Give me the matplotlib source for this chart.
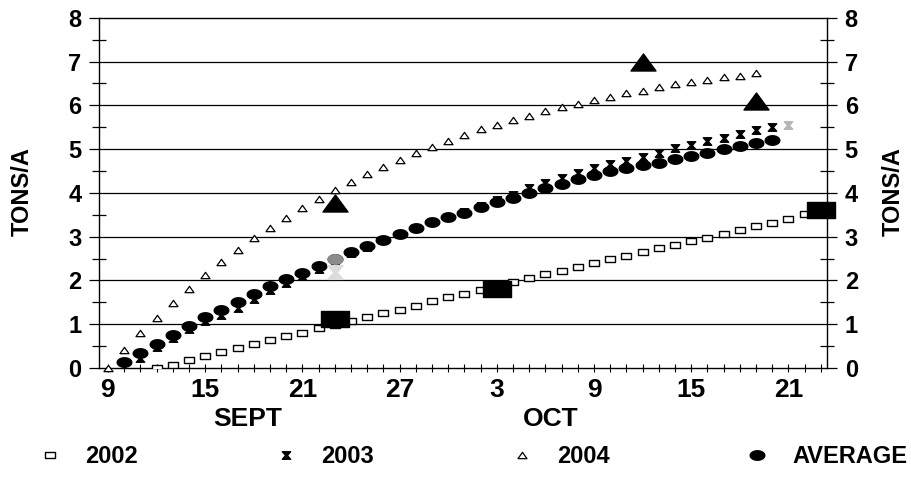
import numpy as np
import matplotlib
matplotlib.use('Agg')
import matplotlib.pyplot as plt
from matplotlib.path import Path
from matplotlib.ticker import FixedLocator, MultipleLocator

plt.rcParams['font.family'] = ['Liberation Sans', 'DejaVu Sans']
plt.rcParams['font.weight'] = 'bold'

# days are counted from 9 Sept (day 0)
tick_days = [0, 6, 12, 18, 24, 30, 36, 42]
tick_labels = ['9', '15', '21', '27', '3', '9', '15', '21']

days_2002 = np.arange(3, 44)
tons_2002 = [0.00, 0.08, 0.19, 0.28, 0.37, 0.46, 0.55, 0.64, 0.72, 0.81,
             0.91, 0.99, 1.07, 1.16, 1.25, 1.33, 1.42, 1.53, 1.62, 1.70,
             1.78, 1.87, 1.96, 2.05, 2.14, 2.22, 2.31, 2.39, 2.48, 2.56,
             2.64, 2.73, 2.82, 2.91, 2.98, 3.06, 3.15, 3.24, 3.32, 3.40,
             3.51]

days_2003 = np.arange(1, 43)
tons_2003 = [0.02, 0.24, 0.47, 0.68, 0.89, 1.07, 1.22, 1.38, 1.58, 1.78,
             1.95, 2.10, 2.27, 2.45, 2.62, 2.77, 2.92, 3.06, 3.20, 3.33,
             3.45, 3.57, 3.70, 3.84, 3.96, 4.10, 4.23, 4.35, 4.46, 4.57,
             4.65, 4.73, 4.81, 4.92, 5.02, 5.09, 5.19, 5.26, 5.34, 5.43,
             5.51, 5.55]

days_2004 = np.arange(0, 41)
tons_2004 = [0.00, 0.41, 0.80, 1.15, 1.49, 1.81, 2.13, 2.42, 2.70, 2.96,
             3.19, 3.42, 3.65, 3.86, 4.06, 4.25, 4.43, 4.60, 4.76, 4.90,
             5.05, 5.18, 5.32, 5.45, 5.56, 5.66, 5.76, 5.87, 5.97, 6.04,
             6.12, 6.19, 6.27, 6.33, 6.41, 6.48, 6.54, 6.58, 6.64, 6.67,
             6.73]

days_avg = np.arange(1, 42)
tons_avg = [0.14, 0.35, 0.55, 0.75, 0.97, 1.16, 1.33, 1.50, 1.69, 1.87,
            2.03, 2.18, 2.34, 2.50, 2.65, 2.79, 2.93, 3.07, 3.19, 3.33,
            3.44, 3.55, 3.67, 3.79, 3.89, 3.99, 4.11, 4.21, 4.31, 4.40,
            4.50, 4.57, 4.63, 4.69, 4.77, 4.85, 4.92, 5.00, 5.07, 5.13,
            5.21]

# harvest samples (big markers)
big_days_2002 = [14, 24, 44]
big_tons_2002 = [1.11, 1.80, 3.60]
big_days_2003 = [14]
big_tons_2003 = [2.20]
big_days_2004 = [14, 33, 40]
big_tons_2004 = [3.76, 7.00, 6.09]


def box(ratio):
    return Path([(-1, -ratio), (1, -ratio), (1, ratio), (-1, ratio), (-1, -ratio)],
                closed=True)


def triangle(ratio):
    return Path([(0, ratio), (-1, -ratio), (1, -ratio), (0, ratio)], closed=True)


def oval(ratio):
    t = np.linspace(0, 2 * np.pi, 40)
    return Path(np.column_stack([np.cos(t), ratio * np.sin(t)]), closed=True)


hourglass = Path([(-1, 0.9), (1, 0.9), (0.2, 0), (1, -0.9), (-1, -0.9),
                  (-0.2, 0), (-1, 0.9)], closed=True)

fig = plt.figure(figsize=(9.11, 4.79), dpi=100)
ax = fig.add_axes([0.1092, 0.2317, 0.7982, 0.7313])
ax.set_xlim(-0.52, 44.36)
ax.set_ylim(0, 8)

for v in range(1, 8):
    ax.axhline(v, color='black', lw=0.9, zorder=1)

ax.plot(days_2002, tons_2002, ls='none', marker=box(0.6), ms=7.2,
        mfc='white', mec='black', mew=1.0, label='2002', zorder=3)
ax.plot(days_2003[:-1], tons_2003[:-1], ls='none', marker=hourglass, ms=6,
        color='black', label='2003', zorder=3)
ax.plot(days_2003[-1:], tons_2003[-1:], ls='none', marker=hourglass, ms=6,
        color='#b5b5b5', zorder=3)
ax.plot(days_2004, tons_2004, ls='none', marker=triangle(0.7), ms=6.5,
        mfc='white', mec='black', mew=0.9, label='2004', zorder=3, clip_on=False)
ax.plot(days_avg, tons_avg, ls='none', marker=oval(0.65), ms=10.5,
        color='black', label='AVERAGE', zorder=4)

# faded points on 23 Sept
ax.plot(big_days_2003, big_tons_2003, ls='none', marker=hourglass, ms=11,
        color='#dcdcdc', zorder=4.2)
ax.plot(days_avg[13], tons_avg[13], ls='none', marker=oval(0.65), ms=10.5,
        color='#8c8c8c', zorder=4.5)

ax.plot(big_days_2002, big_tons_2002, ls='none', marker=box(0.57), ms=20,
        color='black', zorder=5, clip_on=False)
ax.plot(big_days_2004, big_tons_2004, ls='none', marker=triangle(0.68), ms=18,
        color='black', zorder=5, clip_on=False)

for s in ax.spines.values():
    s.set_linewidth(1.0)

ax.xaxis.set_major_locator(FixedLocator(tick_days))
ax.set_xticklabels(tick_labels)
ax.xaxis.set_minor_locator(MultipleLocator(1))
ax.tick_params(axis='x', which='both', direction='inout', length=6, width=0.8,
               labelsize=19, pad=4)

ax.yaxis.set_major_locator(MultipleLocator(1))
ax.yaxis.set_minor_locator(MultipleLocator(0.5))
ax.tick_params(axis='y', which='major', direction='out', length=7, width=0.9,
               left=True, right=True, labelleft=True, labelright=True,
               labelsize=17, pad=6)
ax.tick_params(axis='y', which='minor', direction='inout', length=10, width=0.9,
               left=True, right=True)

fig.text(0.272, 0.125, 'SEPT', ha='center', va='center', fontsize=19)
fig.text(0.604, 0.125, 'OCT', ha='center', va='center', fontsize=19)
fig.text(0.024, 0.60, 'TONS/A', rotation=90, ha='center', va='center', fontsize=17)
fig.text(0.980, 0.60, 'TONS/A', rotation=90, ha='center', va='center', fontsize=17)

ax.legend(ncol=4, loc='center left', bbox_to_anchor=(0.042, 0.046),
          bbox_transform=fig.transFigure, frameon=False, fontsize=17,
          handlelength=1.0, handletextpad=1.0, columnspacing=5.75,
          borderpad=0, borderaxespad=0)

fig.savefig('out.png', dpi=100)
